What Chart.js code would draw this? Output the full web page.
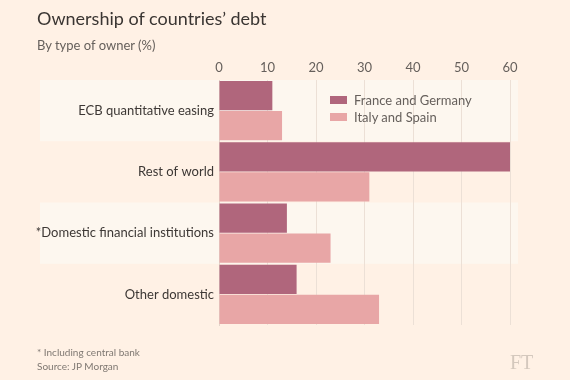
<!DOCTYPE html>
<html>
<head>
<meta charset="utf-8">
<script src="https://cdn.jsdelivr.net/npm/chart.js@4.4.0/dist/chart.umd.min.js"></script>
<style>
  html, body { margin: 0; padding: 0; background: #fff1e5; }
  #wrap { position: relative; width: 570px; height: 380px; font-family: Lato, "Open Sans", sans-serif; }
  #wrap canvas { position: absolute; left: 0; top: 0; }
  .title { position: absolute; left: 37px; top: 7px; font-size: 18px; color: #3a3532; }
  .subtitle { position: absolute; left: 37px; top: 37px; font-size: 13px; color: #66605c; }
  .note { position: absolute; left: 37px; font-size: 10px; color: #7f7872; }
  .ft { position: absolute; left: 510px; top: 351px; font-family: "Liberation Serif", serif; font-size: 20px; color: #d4c8bd; }
  .legend { position: absolute; left: 330px; font-size: 13px; color: #66605c; }
  .legend span { display: inline-block; width: 17px; height: 8px; margin-right: 7px; vertical-align: 1px; }
</style>
</head>
<body>
<div id="wrap">
  <canvas id="chart" width="570" height="380"></canvas>
  <div class="title">Ownership of countries’ debt</div>
  <div class="subtitle">By type of owner (%)</div>
  <div class="legend" style="top:92px"><span style="background:#b0667c"></span>France and Germany</div>
  <div class="legend" style="top:109px"><span style="background:#e8a6a6"></span>Italy and Spain</div>
  <div class="note" style="top:346px">* Including central bank</div>
  <div class="note" style="top:360px">Source: JP Morgan</div>
  <div class="ft">FT</div>
</div>
<script>
// chart data
var owners = ['ECB quantitative easing', 'Rest of world', '*Domestic financial institutions', 'Other domestic'];
var franceGermany = [11, 60, 14, 16];
var italySpain = [13, 31, 23, 33];

// light bands behind every other category
var bandPlugin = {
    id: 'bands',
    beforeDraw: function(chart) {
        var ctx = chart.ctx;
        var y = chart.scales.y;
        var step = y.getPixelForValue(1) - y.getPixelForValue(0);
        ctx.save();
        ctx.fillStyle = '#fdf7ef';
        for (var i = 0; i < owners.length; i += 2) {
            var c = y.getPixelForValue(i);
            ctx.fillRect(40, c - step / 2, 478, step);
        }
        ctx.restore();
    }
};

var ctx = document.getElementById('chart').getContext('2d');
new Chart(ctx, {
    type: 'bar',
    data: {
        labels: owners,
        datasets: [{
            label: 'France and Germany',
            data: franceGermany,
            backgroundColor: '#b0667c',
            barPercentage: 0.97,
            categoryPercentage: 0.98
        }, {
            label: 'Italy and Spain',
            data: italySpain,
            backgroundColor: '#e8a6a6',
            barPercentage: 0.97,
            categoryPercentage: 0.98
        }]
    },
    options: {
        indexAxis: 'y',
        responsive: false,
        animation: false,
        layout: { padding: { left: 0, right: 60, top: 55, bottom: 55 } },
        plugins: {
            legend: { display: false },
            tooltip: { enabled: false }
        },
        scales: {
            x: {
                position: 'top',
                min: 0,
                max: 60,
                ticks: { stepSize: 10, color: '#66605c', padding: 4, font: { family: 'Lato', size: 13 } },
                grid: { color: '#ece0d6', drawTicks: false },
                border: { display: false },
                afterFit: function(s) { s.height = 25; }
            },
            y: {
                ticks: { color: '#3d3835', padding: 5, font: { family: 'Lato', size: 13 } },
                grid: { display: false, drawTicks: false },
                border: { color: '#e3d5ca' },
                afterFit: function(s) { s.width = 219; }
            }
        }
    },
    plugins: [bandPlugin]
});
</script>
</body>
</html>
